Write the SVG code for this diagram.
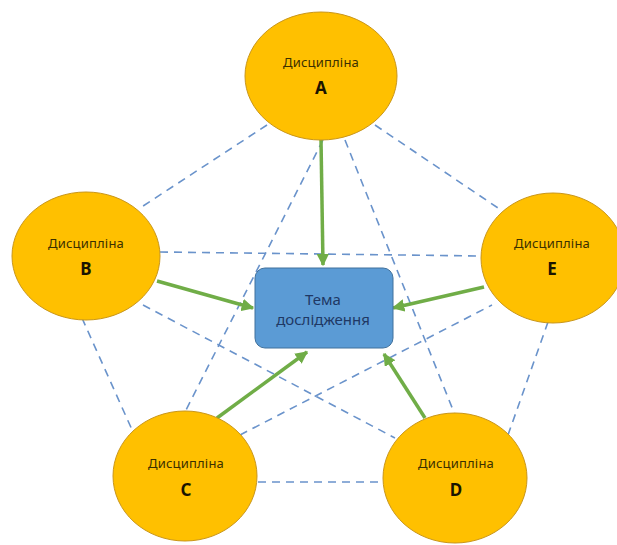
<svg xmlns="http://www.w3.org/2000/svg" width="617" height="545" viewBox="0 0 617 545">
<defs>
<marker id="ah" viewBox="0 0 10 10" refX="9" refY="5" markerWidth="3.6" markerHeight="3.6" orient="auto" markerUnits="strokeWidth">
<path d="M0,0 L10,5 L0,10 Z" fill="#70AD47"/>
</marker>
<style>
.dash{stroke:#6A93CB;stroke-width:1.6;stroke-dasharray:8 6;fill:none}
.arr{stroke:#70AD47;stroke-width:3.5;fill:none;marker-end:url(#ah)}
.disc{fill:#FFC000;stroke:#C9961A;stroke-width:1}
.lbl{font-family:"Noto Sans","Liberation Sans",sans-serif;font-size:13px;letter-spacing:0.2px;fill:#3B3000;text-anchor:middle}
.let{font-family:"Noto Sans","Liberation Sans",sans-serif;font-size:17px;font-weight:bold;fill:#1A1400;text-anchor:middle}
.topic{font-family:"Noto Sans","Liberation Sans",sans-serif;font-size:15px;fill:#1F3864;text-anchor:middle}
</style>
</defs>
<rect width="617" height="545" fill="#FFFFFF"/>
<g id="connectors">
<line class="dash" x1="267" y1="125" x2="140" y2="208"/>
<line class="dash" x1="375" y1="125" x2="498" y2="208"/>
<line class="dash" x1="82" y1="318" x2="133" y2="432"/>
<line class="dash" x1="548" y1="322" x2="508" y2="435"/>
<line class="dash" x1="258" y1="482" x2="383" y2="482"/>
<line class="dash" x1="160" y1="252" x2="482" y2="256"/>
<line class="dash" x1="323" y1="140" x2="185" y2="412"/>
<line class="dash" x1="345" y1="140" x2="455" y2="415"/>
<line class="dash" x1="143" y1="305" x2="395" y2="438"/>
<line class="dash" x1="240" y1="435" x2="492" y2="305"/>
<line class="arr" x1="321" y1="140" x2="323" y2="265"/>
<line class="arr" x1="157" y1="281" x2="253" y2="308"/>
<line class="arr" x1="484" y1="287" x2="393" y2="308"/>
<line class="arr" x1="217" y1="418" x2="307" y2="352"/>
<line class="arr" x1="425" y1="418" x2="384" y2="354"/>
</g>
<g id="topic">
<rect x="255" y="268" width="138" height="80" rx="10" ry="10" fill="#5B9BD5" stroke="#41719C" stroke-width="1"/>
<text class="topic" x="323" y="305">Тема</text>
<text class="topic" x="323" y="325">дослідження</text>
</g>
<g id="nodeA">
<ellipse class="disc" cx="321" cy="76" rx="76" ry="64"/>
<text class="lbl" x="321" y="67">Дисципліна</text>
<text class="let" x="321" y="94">A</text>
</g>
<g id="nodeB">
<ellipse class="disc" cx="86" cy="256" rx="74" ry="64"/>
<text class="lbl" x="86" y="248">Дисципліна</text>
<text class="let" x="86" y="275">B</text>
</g>
<g id="nodeE">
<ellipse class="disc" cx="553" cy="258" rx="72" ry="65"/>
<text class="lbl" x="552" y="248">Дисципліна</text>
<text class="let" x="552" y="275">E</text>
</g>
<g id="nodeC">
<ellipse class="disc" cx="185" cy="476" rx="72" ry="65"/>
<text class="lbl" x="186" y="468">Дисципліна</text>
<text class="let" x="186" y="496">C</text>
</g>
<g id="nodeD">
<ellipse class="disc" cx="455" cy="478" rx="72" ry="65"/>
<text class="lbl" x="456" y="468">Дисципліна</text>
<text class="let" x="456" y="496">D</text>
</g>
</svg>
